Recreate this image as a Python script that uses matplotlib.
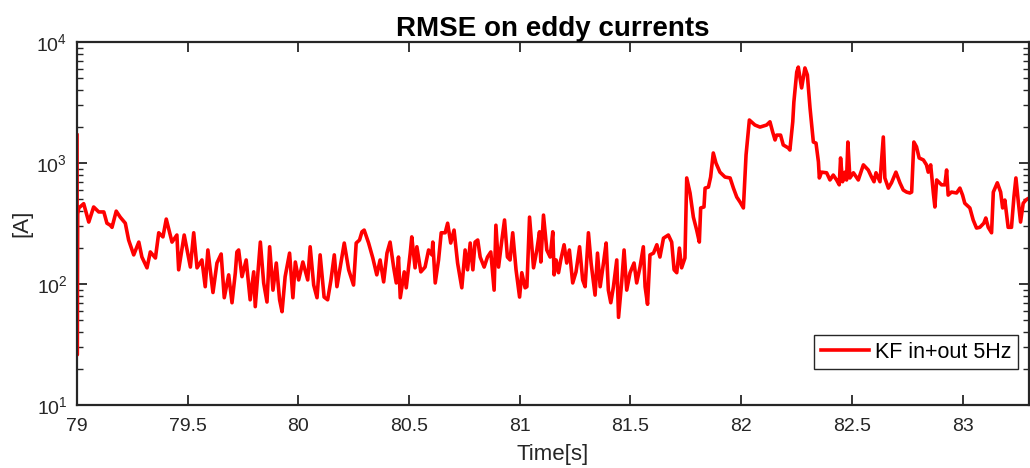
import numpy as np
import matplotlib.pyplot as plt
from matplotlib.ticker import LogLocator, NullFormatter

plt.rcParams['font.family'] = ['Liberation Sans', 'DejaVu Sans']
plt.rcParams['mathtext.fontset'] = 'custom'
plt.rcParams['mathtext.rm'] = 'Liberation Sans'

# time stamps [s] and RMSE of the eddy current estimate [A]
time_s = [
    79.000, 79.001, 79.003, 79.008, 79.030, 79.053, 79.075, 79.098, 79.121, 79.135,
    79.150, 79.158, 79.177, 79.195, 79.218, 79.233, 79.256, 79.279, 79.293, 79.316,
    79.331, 79.354, 79.369, 79.388, 79.403, 79.429, 79.451, 79.459, 79.484, 79.512,
    79.527, 79.542, 79.564, 79.579, 79.591, 79.614, 79.632, 79.651, 79.665, 79.685,
    79.700, 79.715, 79.722, 79.730, 79.745, 79.764, 79.782, 79.798, 79.805, 79.828,
    79.843, 79.858, 79.870, 79.885, 79.900, 79.915, 79.926, 79.940, 79.960, 79.975,
    79.986, 80.001, 80.020, 80.042, 80.053, 80.069, 80.084, 80.098, 80.116, 80.132,
    80.147, 80.162, 80.174, 80.189, 80.207, 80.227, 80.249, 80.261, 80.276, 80.287,
    80.297, 80.317, 80.336, 80.354, 80.369, 80.385, 80.400, 80.414, 80.430, 80.442,
    80.452, 80.460, 80.478, 80.487, 80.505, 80.512, 80.527, 80.535, 80.553, 80.572,
    80.588, 80.603, 80.607, 80.618, 80.633, 80.645, 80.663, 80.674, 80.688, 80.703,
    80.719, 80.738, 80.753, 80.764, 80.776, 80.788, 80.798, 80.810, 80.821, 80.839,
    80.854, 80.869, 80.884, 80.892, 80.904, 80.919, 80.931, 80.944, 80.956, 80.968,
    80.983, 80.999, 81.009, 81.024, 81.032, 81.044, 81.062, 81.077, 81.089, 81.095,
    81.107, 81.122, 81.137, 81.149, 81.155, 81.164, 81.175, 81.185, 81.200, 81.212,
    81.224, 81.239, 81.254, 81.270, 81.284, 81.295, 81.310, 81.322, 81.340, 81.351,
    81.363, 81.378, 81.390, 81.400, 81.411, 81.423, 81.438, 81.446, 81.461, 81.471,
    81.483, 81.498, 81.516, 81.528, 81.543, 81.558, 81.566, 81.577, 81.588, 81.604,
    81.619, 81.633, 81.649, 81.671, 81.686, 81.697, 81.709, 81.721, 81.731, 81.746,
    81.754, 81.769, 81.784, 81.799, 81.811, 81.817, 81.832, 81.837, 81.852, 81.862,
    81.874, 81.886, 81.904, 81.927, 81.950, 81.965, 81.980, 81.995, 82.010, 82.022,
    82.037, 82.062, 82.085, 82.115, 82.130, 82.142, 82.153, 82.160, 82.178, 82.190,
    82.213, 82.220, 82.233, 82.238, 82.251, 82.258, 82.273, 82.288, 82.299, 82.311,
    82.326, 82.338, 82.349, 82.353, 82.363, 82.386, 82.401, 82.416, 82.431, 82.443,
    82.449, 82.458, 82.469, 82.476, 82.482, 82.491, 82.507, 82.529, 82.552, 82.574,
    82.589, 82.600, 82.609, 82.627, 82.642, 82.649, 82.665, 82.679, 82.699, 82.717,
    82.732, 82.747, 82.762, 82.770, 82.780, 82.792, 82.804, 82.823, 82.837, 82.845,
    82.856, 82.868, 82.875, 82.883, 82.905, 82.920, 82.928, 82.935, 82.950, 82.973,
    82.988, 83.000, 83.010, 83.033, 83.048, 83.063, 83.078, 83.096, 83.105, 83.116,
    83.131, 83.139, 83.157, 83.172, 83.181, 83.191, 83.206, 83.221, 83.232, 83.241,
    83.251, 83.262, 83.274, 83.286, 83.297, 83.310,
]
rmse_a = [
    1700, 26, 380, 425, 461, 325, 433, 394, 394, 318,
    306, 294, 400, 357, 318, 231, 174, 222, 167, 136,
    184, 164, 265, 245, 344, 222, 254, 131, 254, 138,
    265, 136, 158, 95, 191, 85, 149, 177, 77, 119,
    70, 124, 184, 191, 115, 158, 74, 126, 65, 222,
    102, 71, 203, 89, 149, 74, 59, 115, 180, 77,
    152, 108, 152, 108, 203, 98, 77, 174, 78, 74,
    108, 174, 95, 138, 218, 131, 98, 218, 231, 270,
    279, 218, 164, 119, 158, 104, 180, 222, 138, 102,
    167, 77, 126, 93, 180, 245, 136, 203, 126, 138,
    191, 174, 222, 102, 158, 265, 265, 318, 218, 279,
    149, 93, 191, 131, 218, 131, 222, 231, 167, 138,
    167, 184, 89, 306, 138, 231, 338, 167, 158, 265,
    131, 78, 124, 93, 95, 357, 136, 191, 270, 152,
    371, 191, 167, 270, 119, 158, 124, 158, 211, 149,
    191, 102, 126, 203, 108, 95, 265, 149, 81, 180,
    95, 149, 218, 89, 70, 95, 158, 53, 108, 191,
    89, 124, 149, 102, 138, 203, 95, 68, 174, 180,
    211, 167, 239, 254, 222, 131, 124, 198, 136, 164,
    752, 565, 357, 279, 222, 425, 433, 620, 632, 765,
    1210, 1000, 840, 765, 752, 620, 523, 475, 425, 1165,
    2265, 2060, 1980, 2060, 2190, 1810, 1550, 1700, 1700, 1410,
    1330, 1280, 2190, 3190, 5650, 6200, 4170, 6100, 5340, 2850,
    1490, 1460, 1020, 752, 840, 830, 724, 795, 724, 660,
    1100, 700, 840, 724, 1490, 752, 830, 724, 965, 875,
    765, 700, 830, 700, 1640, 752, 620, 686, 840, 686,
    598, 575, 565, 575, 1490, 1360, 1100, 1060, 965, 840,
    965, 565, 433, 724, 660, 660, 875, 543, 575, 565,
    620, 543, 465, 425, 338, 290, 294, 318, 351, 294,
    265, 575, 686, 575, 425, 494, 294, 294, 523, 752,
    494, 325, 465, 494, 510, 480,
]

axis_color = '#262626'

fig = plt.figure(figsize=(10.3, 4.68), dpi=100)
ax = fig.add_axes([0.0748, 0.1346, 0.9242, 0.7757])

ax.semilogy(time_s, rmse_a, color='#ff0000', linewidth=2.6, label='KF in+out 5Hz')

ax.set_xlim(79, 83.3)
ax.set_ylim(10, 1e4)
ax.set_xticks(np.arange(79, 83.01, 0.5))
ax.set_xticklabels(['79', '79.5', '80', '80.5', '81', '81.5', '82', '82.5', '83'])
ax.yaxis.set_major_locator(LogLocator(base=10, numticks=10))
ax.yaxis.set_minor_locator(LogLocator(base=10, subs=np.arange(2, 10), numticks=10))
ax.yaxis.set_minor_formatter(NullFormatter())

ax.tick_params(which='both', direction='in', top=True, right=True,
               color=axis_color, labelcolor=axis_color, labelsize=14)
ax.tick_params(axis='x', which='major', pad=9)
ax.tick_params(axis='y', which='major', pad=7)
ax.tick_params(which='major', length=7, width=1.3)
ax.tick_params(which='minor', length=4, width=1.0)
for side in ax.spines.values():
    side.set_color(axis_color)
    side.set_linewidth(1.6)

ax.set_title('RMSE on eddy currents', fontsize=20, fontweight='bold', color='black', pad=4)
ax.set_xlabel('Time[s]', fontsize=16, color=axis_color, labelpad=7)
ax.set_ylabel('[A]', fontsize=16, color=axis_color, labelpad=3)

leg = ax.legend(loc='lower right', bbox_to_anchor=(0.988, 0.099), borderaxespad=0,
                fontsize=15.5, frameon=True, fancybox=False, edgecolor=axis_color,
                framealpha=1, handlelength=2.25, borderpad=0.3, handletextpad=0.25)
leg.get_frame().set_linewidth(1.0)

fig.savefig('out.png', dpi=100)
